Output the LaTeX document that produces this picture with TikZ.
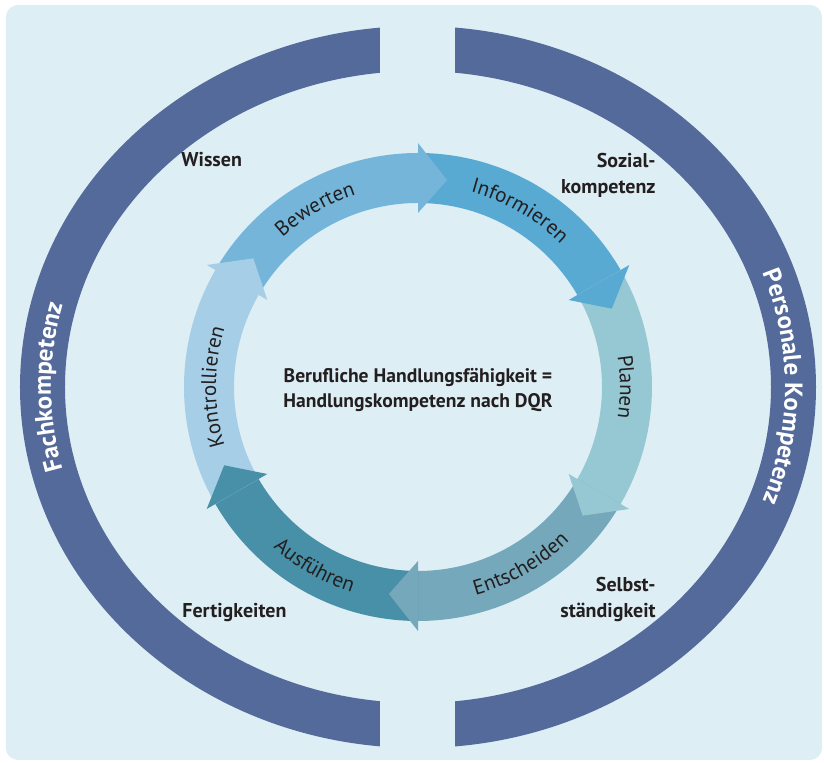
\documentclass[tikz,border=0pt]{standalone}
\usepackage{fontspec}
\setmainfont{PT Sans}
\usetikzlibrary{decorations.text}
\definecolor{bg}{RGB}{222,238,245}
\definecolor{ringblue}{RGB}{84,106,155}
\definecolor{bew}{RGB}{116,181,217}
\definecolor{inf}{RGB}{88,170,211}
\definecolor{pla}{RGB}{150,200,211}
\definecolor{ent}{RGB}{116,168,186}
\definecolor{aus}{RGB}{72,144,167}
\definecolor{kon}{RGB}{166,207,231}
\definecolor{txt}{RGB}{35,31,32}
\newcommand\ringfont{\fontsize{10.5}{12}\selectfont\color{txt}}
\newcommand\outfont{\fontsize{12.5}{14}\selectfont\bfseries\color{white}}
\tikzset{
  lbl/.style={font=\fontsize{10}{13}\selectfont\bfseries, text=txt, inner sep=0pt},
  ringtext/.style={decorate, decoration={text along path, text align=center, text={#1}}}
}
\begin{document}
\begin{tikzpicture}[x=0.5pt,y=0.5pt]
\useasboundingbox (-418,-376) rectangle (406,387);
\fill[bg, rounded corners=6pt] (-412,-373) rectangle (404,382);
% outer rings
\begin{scope}
\clip (-420,-380) rectangle (-38,390);
\fill[ringblue, even odd rule] (0,0) ellipse [x radius=398, y radius=361] (0,0) ellipse [x radius=353, y radius=316];
\end{scope}
\begin{scope}
\clip (37,-380) rectangle (420,390);
\fill[ringblue, even odd rule] (0,0) ellipse [x radius=398, y radius=361] (0,0) ellipse [x radius=353, y radius=316];
\end{scope}
\path[ringtext={|\outfont|Fachkompetenz}] (215:367 and 330) arc [start angle=215, end angle=145, x radius=367, y radius=330];
\path[ringtext={|\outfont|Personale Kompetenz}] (40:367 and 330) arc [start angle=40, end angle=-40, x radius=367, y radius=330];
% cycle
\foreach \a/\b/\col in {150/90/bew, 90/30/inf, 30/-30/pla, -30/-90/ent, -90/-150/aus, 210/150/kon}
  \fill[\col] (\a:234) arc [start angle=\a, end angle=\b, radius=234] -- (\b:184) arc [start angle=\b, end angle=\a, radius=184] -- cycle;
\foreach \b/\col in {90/bew, 30/inf, -30/pla, -90/ent, -150/aus, 150/kon}
  \fill[\col] (\b:244) -- ({\b-8}:209) -- (\b:174) -- cycle;
\path[ringtext={|\ringfont|Bewerten}] (160:202) arc [start angle=160, end angle=80, radius=202];
\path[ringtext={|\ringfont|Informieren}] (100:202) arc [start angle=100, end angle=20, radius=202];
\path[ringtext={|\ringfont|Planen}] (40:202) arc [start angle=40, end angle=-40, radius=202];
\path[ringtext={|\ringfont|Entscheiden}] (-100:216) arc [start angle=-100, end angle=-20, radius=216];
\path[ringtext={|\ringfont|Ausführen}] (-160:216) arc [start angle=-160, end angle=-80, radius=216];
\path[ringtext={|\ringfont|Kontrollieren}] (225:202) arc [start angle=225, end angle=135, radius=202];
% labels
\node[lbl, anchor=west] (wissen) at (-237,227) {Wissen};
\node[lbl, anchor=east, align=right] (sozial) at (238,212) {Sozial-\\kompetenz};
\node[lbl, anchor=west] (fertig) at (-236,-226) {Fertigkeiten};
\node[lbl, anchor=east, align=right] (selbst) at (238,-212) {Selbst-\\ständigkeit};
\node[lbl, align=center, font=\fontsize{9.8}{12.5}\selectfont\bfseries] (dqr) at (0,-3.5) {Berufliche Handlungsfähigkeit =\\Handlungskompetenz nach DQR};
\end{tikzpicture}
\end{document}
